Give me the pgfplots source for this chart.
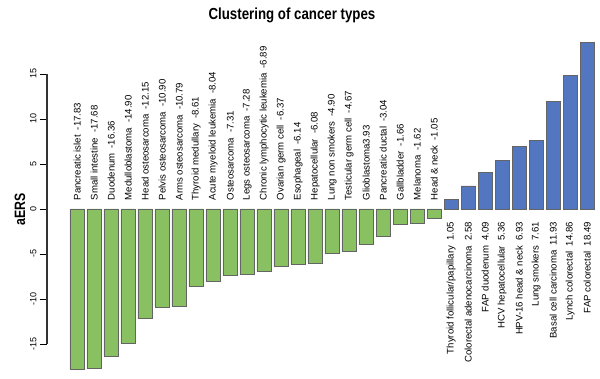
\documentclass[border=0pt]{standalone}
\usepackage{graphicx}
\usepackage{pgfplots}
\pgfplotsset{compat=1.18}
\usepackage{pgfplotstable}
\usepackage{fontspec}
\setmainfont{Liberation Sans}
\definecolor{barg}{RGB}{137,193,98}
\definecolor{barb}{RGB}{83,118,192}
\definecolor{edge}{RGB}{100,100,100}

\pgfplotstableread[col sep=comma]{
x,y,label
0,-17.83,Pancreatic islet\hspace{5pt}-17.83
1,-17.68,Small intestine\hspace{5pt}-17.68
2,-16.36,Duodenum\hspace{5pt}-16.36
3,-14.90,Medulloblastoma\hspace{5pt}-14.90
4,-12.15,Head osteosarcoma\hspace{5pt}-12.15
5,-10.90,Pelvis osteosarcoma\hspace{5pt}-10.90
6,-10.79,Arms osteosarcoma\hspace{5pt}-10.79
7,-8.61,Thyroid medullary\hspace{5pt}-8.61
8,-8.04,Acute myeloid leukemia\hspace{5pt}-8.04
9,-7.31,Osteosarcoma\hspace{5pt}-7.31
10,-7.28,Legs osteosarcoma\hspace{5pt}-7.28
11,-6.89,Chronic lymphocytic leukemia\hspace{5pt}-6.89
12,-6.37,Ovarian germ cell\hspace{5pt}-6.37
13,-6.14,Esophageal\hspace{5pt}-6.14
14,-6.08,Hepatocellular\hspace{5pt}-6.08
15,-4.90,Lung non smokers\hspace{5pt}-4.90
16,-4.67,Testicular germ cell\hspace{5pt}-4.67
17,-3.93,Glioblastoma3.93
18,-3.04,Pancreatic ductal\hspace{5pt}-3.04
19,-1.66,Gallbladder\hspace{5pt}-1.66
20,-1.62,Melanoma\hspace{5pt}-1.62
21,-1.05,Head \& neck\hspace{5pt}-1.05
}\negdata

\pgfplotstableread[col sep=comma]{
x,y,label
22,1.05,Thyroid follicular/papillary\hspace{5pt}1.05
23,2.58,Colorectal adenocarcinoma\hspace{5pt}2.58
24,4.09,FAP duodenum\hspace{5pt}4.09
25,5.36,HCV hepatocellular\hspace{5pt}5.36
26,6.93,HPV-16 head \& neck\hspace{5pt}6.93
27,7.61,Lung smokers\hspace{5pt}7.61
28,11.93,Basal cell carcinoma\hspace{5pt}11.93
29,14.86,Lynch colorectal\hspace{5pt}14.86
30,18.49,FAP colorectal\hspace{5pt}18.49
}\posdata

\begin{document}
\begin{tikzpicture}
\begin{axis}[
  name=ax,
  scale only axis,
  width=553pt, height=379pt,
  xmin=-1.779, xmax=30.75,
  ymin=-18.89, ymax=23.22,
  clip=false,
  axis x line=none,
  axis y line*=left,
  y axis line style={draw=none},
  ytick={-15,-10,-5,0,5,10,15},
  yticklabels={-15,-10,-5,0,5,10,15},
  ytick pos=left,
  tick align=outside,
  major tick length=7pt,
  ytick style={black, line width=0.6pt},
  yticklabel style={rotate=90, anchor=south, font=\fontsize{9}{10}\selectfont},
  ylabel={\scalebox{0.82}[1]{aERS}},
  ylabel style={at={(axis description cs:-0.0488,0.4485)}, anchor=center, font=\bfseries\fontsize{15}{16}\selectfont},
]
\addplot[ybar, bar shift=0pt, bar width=14.5pt, fill=barg, draw=edge, line width=0.5pt]
  table[x=x, y=y] {\negdata};
\addplot[ybar, bar shift=0pt, bar width=14.5pt, fill=barb, draw=edge, line width=0.5pt]
  table[x=x, y=y] {\posdata};

\addplot[ybar, bar shift=0pt, bar width=0pt, draw=none, fill=none,
  point meta=explicit symbolic,
  nodes near coords={\pgfplotspointmeta},
  every node near coord/.style={rotate=90, anchor=west, inner sep=0pt, text=black, font=\fontsize{9.6}{11}\selectfont}]
  table[x=x, y expr=0.95, meta=label] {\negdata};
\addplot[ybar, bar shift=0pt, bar width=0pt, draw=none, fill=none,
  point meta=explicit symbolic,
  nodes near coords={\pgfplotspointmeta},
  every node near coord/.style={rotate=90, anchor=east, inner sep=0pt, text=black, font=\fontsize{9.6}{11}\selectfont}]
  table[x=x, y expr=-1.44, meta=label] {\posdata};

\node[font=\bfseries\fontsize{16}{18}\selectfont] at (rel axis cs:0.443,0.960) {\scalebox{0.83}[1]{Clustering of cancer types}};
\draw[black!80, line width=1.5pt] (axis cs:-1.779,-15) -- (axis cs:-1.779,15);
\end{axis}
\pgfresetboundingbox
\path[use as bounding box] ([xshift=-47pt]ax.south west) rectangle (ax.north east);
\end{tikzpicture}
\end{document}
